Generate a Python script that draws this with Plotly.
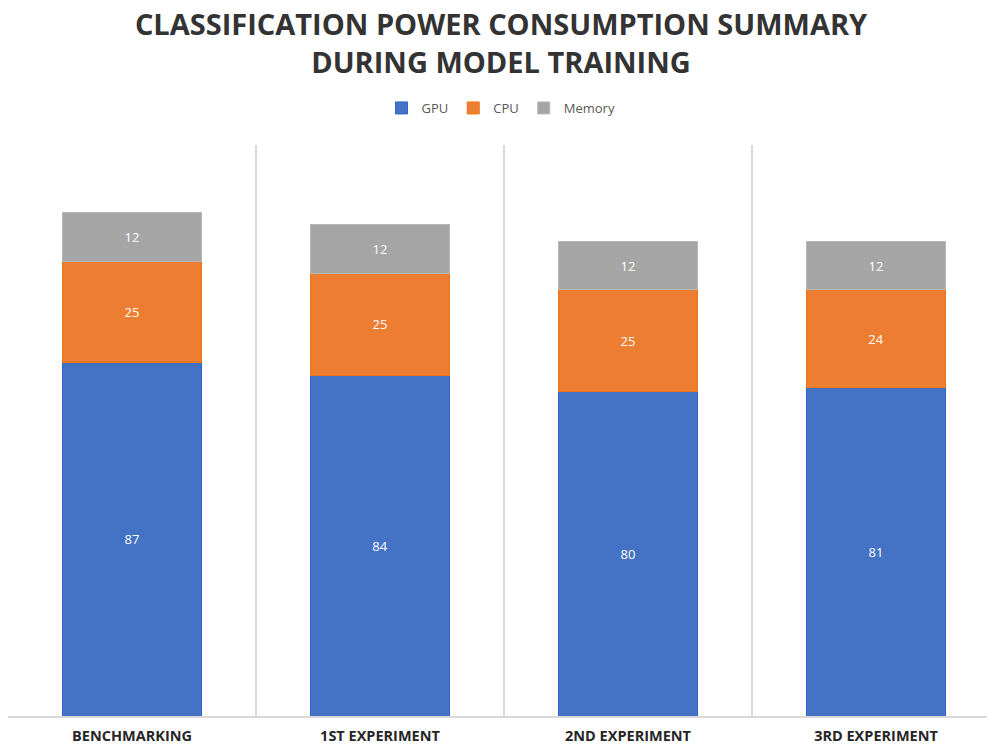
import plotly.graph_objects as go

categories = ["BENCHMARKING", "1ST EXPERIMENT", "2ND EXPERIMENT", "3RD EXPERIMENT"]
gpu = [87, 84, 80, 81]
cpu = [25, 25, 25, 24]
memory = [12, 12, 12, 12]

series = [
    ("GPU", gpu, "#4472C4", "#2f66cc"),
    ("CPU", cpu, "#ED7D31", "#f07414"),
    ("Memory", memory, "#A5A5A5", "#b8b8b8"),
]

W, H = 987, 739  # page adds an 8px body margin

fig = go.Figure()
for name, vals, color, edge in series:
    fig.add_trace(go.Bar(
        name=name, x=categories, y=vals,
        marker=dict(color=color, line=dict(color=edge, width=1)),
        text=[str(v) for v in vals],
        textposition="inside", insidetextanchor="middle",
        textfont=dict(family="Open Sans", size=13, color="white"),
        width=0.56,
    ))

fig.update_layout(
    barmode="stack",
    width=W, height=H,
    margin=dict(l=0, r=0, t=137, b=31, autoexpand=False),
    paper_bgcolor="white", plot_bgcolor="white",
    title=dict(
        text="CLASSIFICATION POWER CONSUMPTION SUMMARY<br>DURING MODEL TRAINING",
        x=493 / W, xanchor="center",
        y=1 - 27 / H, yanchor="top", yref="container",
        font=dict(family="Open Sans", size=29, color="#333333", weight="bold"),
    ),
    legend=dict(
        orientation="h", x=493 / W, xanchor="center",
        y=1 + (137 - 100) / 571, yanchor="middle",
        font=dict(family="Open Sans", size=13, color="#595959"),
        itemwidth=30, traceorder="normal",
    ),
)

fig.update_xaxes(
    range=[-0.5, -0.5 + W / 248],
    tickson="boundaries",
    showgrid=True, gridcolor="#d9d9d9", gridwidth=1.5,
    showline=True, linecolor="#d9d9d9", linewidth=2,
    ticks="", ticklabelstandoff=6,
    tickfont=dict(family="Open Sans", size=14.5, color="#262626", weight="bold"),
    fixedrange=True,
)
fig.update_yaxes(
    range=[0, 140.7], showgrid=False, zeroline=False,
    showticklabels=False, showline=False,
)

fig.write_html("out.html")
